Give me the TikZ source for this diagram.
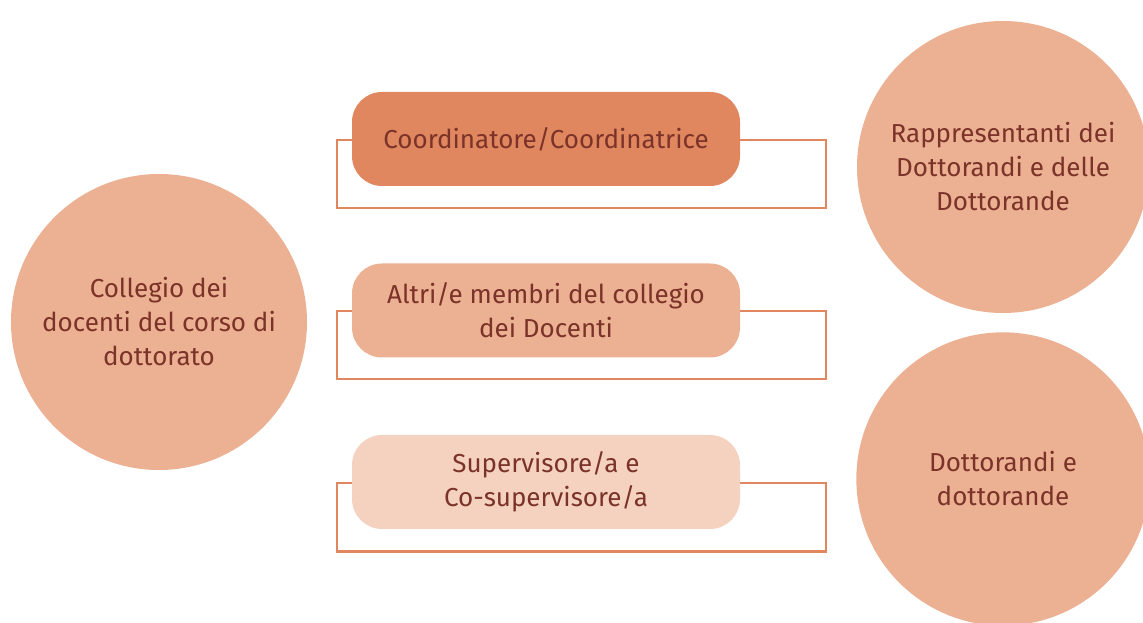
\documentclass[tikz,border=0pt]{standalone}
\usepackage{fontspec}
\setmainfont{Fira Sans}
\usepackage{tikz}
\usetikzlibrary{positioning}

\definecolor{orangedark}{RGB}{224,135,96}
\definecolor{orangemid}{RGB}{236,176,146}
\definecolor{orangelight}{RGB}{244,210,191}
\definecolor{brownText}{RGB}{123,50,40}

\begin{document}
\begin{tikzpicture}[x=0.75pt, y=-0.75pt,
	every node/.style={text=brownText, font=\fontsize{19.5}{25.5}\selectfont, align=center},
	bubble/.style={circle, fill=orangemid, inner sep=0pt},
	role/.style={rounded corners=22.5pt, minimum width=291pt, minimum height=70.5pt, inner sep=0pt},
	frame/.style={draw=orangedark, line width=1.5pt, minimum width=366.75pt, minimum height=51pt, inner sep=0pt}]
	\useasboundingbox (0,0) rectangle (1143,623);

	% Frames {f1, f2, f3}
	\node [frame]	(f1) at (581.5,174)		{};
	\node [frame]	(f2) at (581.5,345.5)	{};
	\node [frame]	(f3) at (581.5,517.5)	{};

	% Roles {coord, altri, superv}
	\node [role, fill=orangedark]	(coord)		at (546,139)	{Coordinatore/Coordinatrice};
	\node [role, fill=orangemid]	(altri)		at (546,310.5)	{Altri/e membri del collegio\\dei Docenti};
	\node [role, fill=orangelight]	(superv)	at (546,482)	{Supervisore/a e\\Co-supervisore/a};

	% Bubbles {collegio, rappr, dott}
	\node [bubble, minimum size=222pt]	(collegio)	at (159,322)	{Collegio dei\\docenti del corso di\\dottorato};
	\node [bubble, minimum size=219pt]	(rappr)		at (1003,167)	{Rappresentanti dei\\Dottorandi e delle\\Dottorande};
	\node [bubble, minimum size=220pt]	(dott)		at (1003,479)	{Dottorandi e\\dottorande};

\end{tikzpicture}
\end{document}
